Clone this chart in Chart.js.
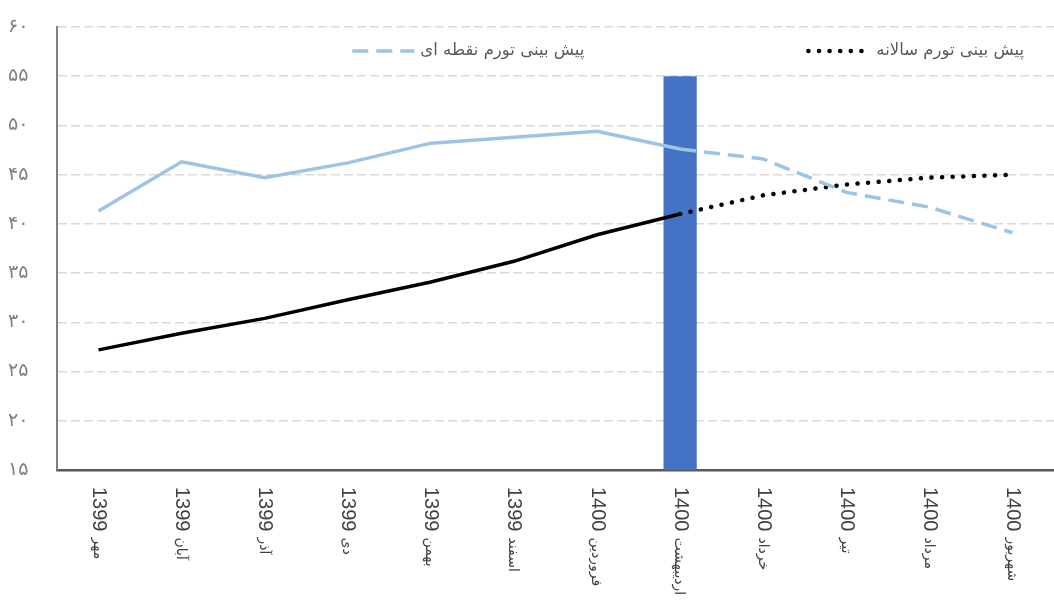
<!DOCTYPE html>
<html>
<head>
<meta charset="utf-8">
<script src="https://cdn.jsdelivr.net/npm/chart.js@4/dist/chart.umd.min.js"></script>
<style>
  html, body { margin: 0; padding: 0; background: #fff; }
  #wrap { width: 1054px; height: 609px; }
</style>
</head>
<body>
<div id="wrap"><canvas id="inflChart"></canvas></div>
<script>
// categories (year + month)
const years = ["1399", "1399", "1399", "1399", "1399", "1399", "1400", "1400", "1400", "1400", "1400", "1400"];
const months = ["مهر", "آبان", "آذر", "دی", "بهمن", "اسفند", "فروردین", "اردیبهشت", "خرداد", "تیر", "مرداد", "شهریور"];

// point inflation: actual then forecast
const pointActual = [41.3, 46.3, 44.7, 46.2, 48.2, 48.8, 49.4, 47.6, null, null, null, null];
const pointForecast = [null, null, null, null, null, null, null, 47.6, 46.6, 43.2, 41.7, 39.1];

// annual inflation: actual then forecast
const annualActual = [27.2, 28.9, 30.4, 32.3, 34.1, 36.2, 38.9, 41.0, null, null, null, null];
const annualForecast = [null, null, null, null, null, null, null, 41.0, 42.9, 44.0, 44.7, 45.0];

// highlight bar for current month
const marker = [null, null, null, null, null, null, null, 55, null, null, null, null];

const yTicks = [15, 20, 25, 30, 35, 40, 45, 50, 55, 60];

const faDigits = "۰۱۲۳۴۵۶۷۸۹";
function toFa(n) {
    return String(n).replace(/[0-9]/g, d => faDigits[d]);
}

const labels = years.map((y, i) => y + " " + months[i]);

// x labels turned clockwise, year on top and month under it
const rotatedLabels = {
    id: "rotatedLabels",
    afterDraw(chart) {
        const ctx = chart.ctx;
        const xs = chart.scales.x;
        ctx.save();
        ctx.fillStyle = "#404040";
        ctx.textBaseline = "middle";
        ctx.textAlign = "left";
        years.forEach((yr, i) => {
            const px = xs.getPixelForValue(i);
            ctx.save();
            ctx.translate(px, xs.top + 17);
            ctx.rotate(Math.PI / 2);
            ctx.font = "20px 'Liberation Sans'";
            ctx.fillText(yr, 0, 0);
            const w = ctx.measureText(yr).width;
            ctx.font = "14px 'DejaVu Sans'";
            ctx.fillText(months[i], w + 6, 1);
            ctx.restore();
        });
        ctx.restore();
    }
};

// legend inside the plot, sample line left of the text
const insideLegend = {
    id: "insideLegend",
    afterDraw(chart) {
        const ctx = chart.ctx;
        const area = chart.chartArea;
        const y = area.top + 24;
        let anchor = area.right - 30;
        ctx.save();
        ctx.font = "16.5px 'DejaVu Sans'";
        ctx.textBaseline = "middle";
        ctx.textAlign = "right";
        const items = chart.data.datasets.filter(d => d.legend).reverse();
        items.forEach(ds => {
            const w = ctx.measureText(ds.label).width;
            ctx.fillStyle = "#595959";
            ctx.fillText(ds.label, anchor, y);
            const x1 = anchor - w - 6;
            const x0 = x1 - 62;
            ctx.beginPath();
            ctx.setLineDash(ds.borderDash);
            ctx.lineCap = ds.borderCapStyle || "butt";
            ctx.lineWidth = ds.borderWidth;
            ctx.strokeStyle = ds.borderColor;
            ctx.moveTo(x0, y);
            ctx.lineTo(x1, y);
            ctx.stroke();
            anchor = x0 - 224;
        });
        ctx.restore();
    }
};

let inflChart = null;

function drawChart() {

    const ctx = document.getElementById("inflChart").getContext("2d");

    if (inflChart)
        inflChart.destroy();

    inflChart = new Chart(ctx, {

        type: "bar",

        data: {

            labels,

            datasets: [

                {
                    label: "پیش بینی تورم نقطه ای",
                    type: "line",
                    data: pointForecast,
                    borderColor: "#9dc3e6",
                    borderWidth: 3.5,
                    borderDash: [16, 8],
                    pointRadius: 0,
                    fill: false,
                    order: 1,
                    legend: true
                },

                {
                    label: "پیش بینی تورم سالانه",
                    type: "line",
                    data: annualForecast,
                    borderColor: "#000000",
                    borderWidth: 4.5,
                    borderDash: [0.1, 10.5],
                    borderCapStyle: "round",
                    pointRadius: 0,
                    fill: false,
                    order: 1,
                    legend: true
                },

                {
                    label: "point",
                    type: "line",
                    data: pointActual,
                    borderColor: "#9dc3e6",
                    borderWidth: 3.5,
                    pointRadius: 0,
                    fill: false,
                    order: 1
                },

                {
                    label: "annual",
                    type: "line",
                    data: annualActual,
                    borderColor: "#000000",
                    borderWidth: 3.5,
                    pointRadius: 0,
                    fill: false,
                    order: 1
                },

                {
                    label: "marker",
                    data: marker,
                    backgroundColor: "#4472c4",
                    barPercentage: 0.4,
                    categoryPercentage: 1,
                    order: 2
                }

            ]

        },

        options: {

            responsive: true,
            maintainAspectRatio: false,
            animation: false,

            layout: {
                padding: { top: 27, right: 0, left: 8, bottom: 0 }
            },

            plugins: {
                tooltip: { enabled: false },
                legend: { display: false }
            },

            scales: {

                x: {
                    offset: true,
                    grid: { display: false },
                    border: { display: true, color: "#595959", width: 2.5 },
                    ticks: { display: false },
                    afterFit: s => { s.height = 139; }
                },

                y: {
                    min: 15,
                    max: 60,
                    afterBuildTicks: s => { s.ticks = yTicks.map(v => ({ value: v })); },
                    afterFit: s => { s.width = 49; },
                    grid: {
                        color: "#d9d9d9",
                        lineWidth: 1.5,
                        drawTicks: false
                    },
                    border: { display: true, color: "#808080", width: 2, dash: [9, 4] },
                    ticks: {
                        padding: 4,
                        crossAlign: "far",
                        color: "#7f7f7f",
                        font: { family: "DejaVu Sans", size: 19 },
                        callback: v => toFa(v)
                    }
                }

            }

        },

        plugins: [rotatedLabels, insideLegend]

    });

}

drawChart();
</script>
</body>
</html>
